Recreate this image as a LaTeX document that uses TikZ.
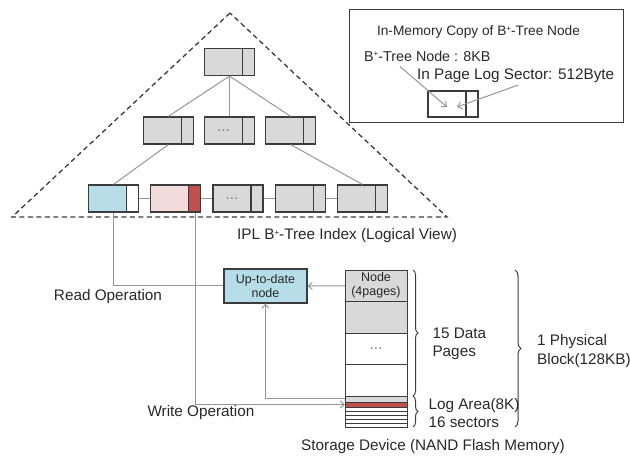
\documentclass[tikz,border=0pt]{standalone}
\usepackage{fontspec}
\setmainfont{Liberation Sans}
\usetikzlibrary{arrows.meta,positioning,decorations.pathreplacing}
\definecolor{pgfill}{RGB}{217,217,217}
\definecolor{leafblue}{RGB}{183,221,232}
\definecolor{leafpink}{RGB}{242,220,219}
\definecolor{logred}{RGB}{192,80,77}
\definecolor{linec}{RGB}{60,60,60}
\definecolor{connc}{RGB}{150,150,150}
\definecolor{txtc}{RGB}{40,40,40}
\newcommand\bplus{\raisebox{0.55ex}{\fontsize{8}{8}\selectfont+}}

\begin{document}
\begin{tikzpicture}[x=1pt,y=-1pt,
  font=\fontsize{15.3}{18.4}\selectfont, text=txtc,
  pg/.style={draw=linec,line width=1.2pt,fill=pgfill,minimum width=50pt,minimum height=27pt,inner sep=0pt,
    path picture={\draw[linec,line width=1.2pt,fill=#1] ([xshift=-12pt]path picture bounding box.north east) rectangle ([xshift=1pt]path picture bounding box.south east);}},
  pg/.default=pgfill,
  sec/.style={draw=linec,line width=0.9pt,minimum width=62pt,inner sep=0pt,outer sep=0pt,fill=white},
  conn/.style={draw=connc,line width=1pt},
  arr/.style={conn,-{Straight Barb[length=4pt,width=7pt]}},
  brc/.style={draw=linec,line width=1pt,decorate,decoration={brace,amplitude=#1}},
  small/.style={font=\fontsize{12.5}{14}\selectfont}]
\useasboundingbox (0,0) rectangle (630,457);

% logical view of the tree
\draw[linec,line width=1.3pt,dash pattern=on 5pt off 3.5pt] (230,13) -- (12,217) -- (447,217) -- cycle;
\node[pg] (root) at (229.5,62) {};
\node[pg] (n2) at (229.5,130.5) {\textcolor{gray}{...}\hspace*{12pt}};
\node[pg,left=10pt of n2] (n1) {};
\node[pg,right=10pt of n2] (n3) {};
\node[pg=white,fill=leafblue] (l1) at (113.5,198.5) {};
\node[pg=logred,fill=leafpink,right=11pt of l1] (l2) {};
\node[pg,right=11pt of l2] (l3) {\textcolor{gray}{...}\hspace*{12pt}};
\node[pg,right=11pt of l3] (l4) {};
\node[pg,right=11pt of l4] (l5) {};
\draw[conn] (root.south) -- (n1.north);
\draw[conn] (root.south) -- (n2.north);
\draw[conn] (root.south) -- (n3.north);
\draw[conn] (n1.south) -- (l1.north);
\draw[conn] (n3.south) -- (l5.north);
\foreach \a/\b in {l1/l2,l2/l3,l3/l4,l4/l5}
  \draw[conn] (\a) -- (\b);
\node (ipl) at (347,236) {IPL B\bplus-Tree Index (Logical View)};

% in-memory copy
\node[draw=linec,line width=1pt,minimum width=274pt,minimum height=113pt,inner sep=0pt] (mem) at (486,66.5) {};
\node[font=\fontsize{13.7}{16}\selectfont] (memt) at (478.5,32) {In-Memory Copy of B\bplus-Tree Node};
\node[anchor=west,inner sep=0pt,font=\fontsize{14.3}{17}\selectfont] (memn) at (364,56) {B\bplus-Tree Node : 8KB};
\node[anchor=west,inner sep=0pt] (meml) at (417,76) {In Page Log Sector: 512Byte};
\node[pg=white,fill=white,minimum height=26pt] (cpy) at (453,104) {};
\draw[arr] ([xshift=36pt,yshift=-5pt]memn.south west) -- ([xshift=-6pt,yshift=-3pt]cpy.center);
\draw[arr] ([xshift=101pt,yshift=-2pt]meml.south west) -- ([xshift=4pt,yshift=-3pt]cpy.center);

% storage device
\node[draw=linec,line width=1.2pt,fill=leafblue,minimum width=83pt,minimum height=34pt,inner sep=0pt,align=center,small] (upd) at (265.5,286) {Up-to-date\\node};
\node[sec,fill=pgfill,minimum height=31.5pt,align=center,small] (pg1) at (376,285.75) {Node\\(4pages)};
\node[sec,fill=pgfill,minimum height=31.5pt,below=0pt of pg1] (pg2) {};
\node[sec,minimum height=31.5pt,below=0pt of pg2] (pg3) {\textcolor{gray}{...}};
\node[sec,minimum height=31.5pt,below=0pt of pg3] (pg4) {};
\node[sec,fill=pgfill,minimum height=6pt,below=0pt of pg4] (s1) {};
\node[sec,fill=logred,minimum height=5pt,below=0pt of s1] (s2) {};
\foreach \i [count=\j from 2] in {3,...,7}
  \node[sec,minimum height=4pt,below=0pt of s\j] (s\i) {};
\draw[brc=5pt] ([xshift=6pt]pg1.north east) -- ([xshift=6pt]pg4.south east);
\draw[brc=5pt] ([xshift=6pt]s1.north east) -- ([xshift=6pt]s7.south east);
\draw[brc=6pt] ([xshift=108pt]pg1.north east) -- ([xshift=108pt]s7.south east);
\node[anchor=west,align=left] (data) at (429,344) {15 Data\\Pages};
\node[anchor=west,align=left] (logl) at (425,413) {Log Area(8K)\\16 sectors};
\node[anchor=west,align=left,inner sep=2pt] (blk) at (535,351) {1 Physical\\Block(128KB)};
\node (dev) at (433,447) {Storage Device (NAND Flash Memory)};
\node (rd) at (108,297) {Read Operation};
\node (wr) at (201,413) {Write Operation};
\draw[conn] (upd.west) -| (l1.south);
\draw[arr] ([xshift=-5.5pt]l2.south east) |- (s2.west);
\draw[arr] (s1.west) -| (upd.south);
\draw[arr] (pg1.west) -- (upd.east);
\end{tikzpicture}
\end{document}
